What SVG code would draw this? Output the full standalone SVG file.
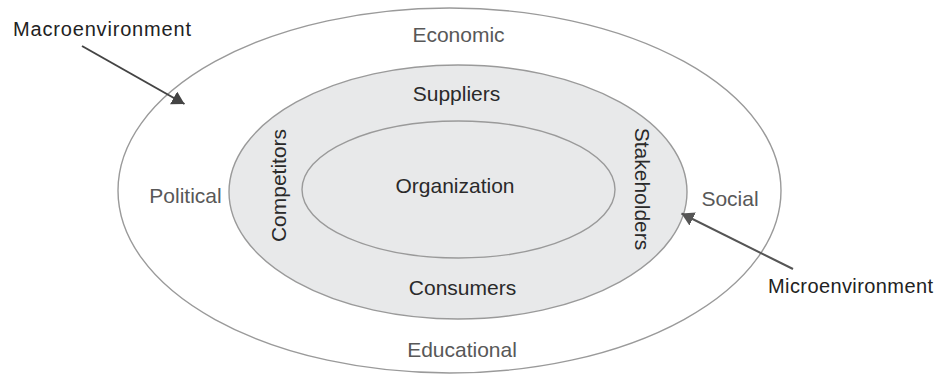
<svg xmlns="http://www.w3.org/2000/svg" width="940" height="378" viewBox="0 0 940 378">
  <style>
    text { font-family: "Liberation Sans", Arial, sans-serif; font-size: 21px; }
    .ring { stroke: #9a9a9a; stroke-width: 1.4; }
    .outer-label { fill: #585858; text-anchor: middle; }
    .inner-label { fill: #2a2a2a; text-anchor: middle; }
    .callout { fill: #222222; font-size: 20px; }
    .pointer { fill: none; stroke-width: 2; }
  </style>
  <defs>
    <marker id="head-dark" markerUnits="userSpaceOnUse" markerWidth="14" markerHeight="16" refX="12.5" refY="7.25" orient="auto">
      <path d="M0,0 L12.5,7.25 L0,14.5 Z" fill="#444444"/>
    </marker>
    <marker id="head-mid" markerUnits="userSpaceOnUse" markerWidth="14" markerHeight="16" refX="12.5" refY="7.25" orient="auto">
      <path d="M0,0 L12.5,7.25 L0,14.5 Z" fill="#555555"/>
    </marker>
  </defs>

  <rect width="940" height="378" fill="#ffffff"/>

  <!-- Macroenvironment ring -->
  <g id="macro-ring">
    <ellipse class="ring" cx="449.5" cy="190.5" rx="331.5" ry="182.5" fill="#ffffff"/>
    <text class="outer-label" x="458.5" y="42">Economic</text>
    <text class="outer-label" x="185.5" y="203">Political</text>
    <text class="outer-label" x="730" y="206">Social</text>
    <text class="outer-label" x="462" y="357">Educational</text>
  </g>

  <!-- Microenvironment ring -->
  <g id="micro-ring">
    <ellipse class="ring" cx="458" cy="192" rx="229" ry="127" fill="#e8e9ea"/>
    <text class="inner-label" x="456.5" y="101">Suppliers</text>
    <text class="inner-label" x="462.5" y="295">Consumers</text>
    <text class="inner-label" transform="translate(285.5,185.5) rotate(-90)">Competitors</text>
    <text class="inner-label" transform="translate(634.5,189) rotate(90)">Stakeholders</text>
  </g>

  <!-- Organization core -->
  <g id="organization">
    <ellipse class="ring" cx="458.5" cy="189.5" rx="156.5" ry="68.5" fill="#e8e9ea"/>
    <text class="inner-label" x="455" y="193">Organization</text>
  </g>

  <!-- Callout labels -->
  <g id="label-macroenvironment">
    <text class="callout" x="13" y="36" textLength="178" lengthAdjust="spacing">Macroenvironment</text>
  </g>
  <g id="label-microenvironment">
    <text class="callout" x="768" y="293" textLength="165" lengthAdjust="spacing">Microenvironment</text>
  </g>

  <!-- Pointers from callouts to their rings -->
  <g id="connectors">
    <line class="pointer" x1="82" y1="46" x2="184.5" y2="104" stroke="#444444" marker-end="url(#head-dark)"/>
    <line class="pointer" x1="793" y1="269" x2="681.5" y2="213.5" stroke="#555555" marker-end="url(#head-mid)"/>
  </g>
</svg>
